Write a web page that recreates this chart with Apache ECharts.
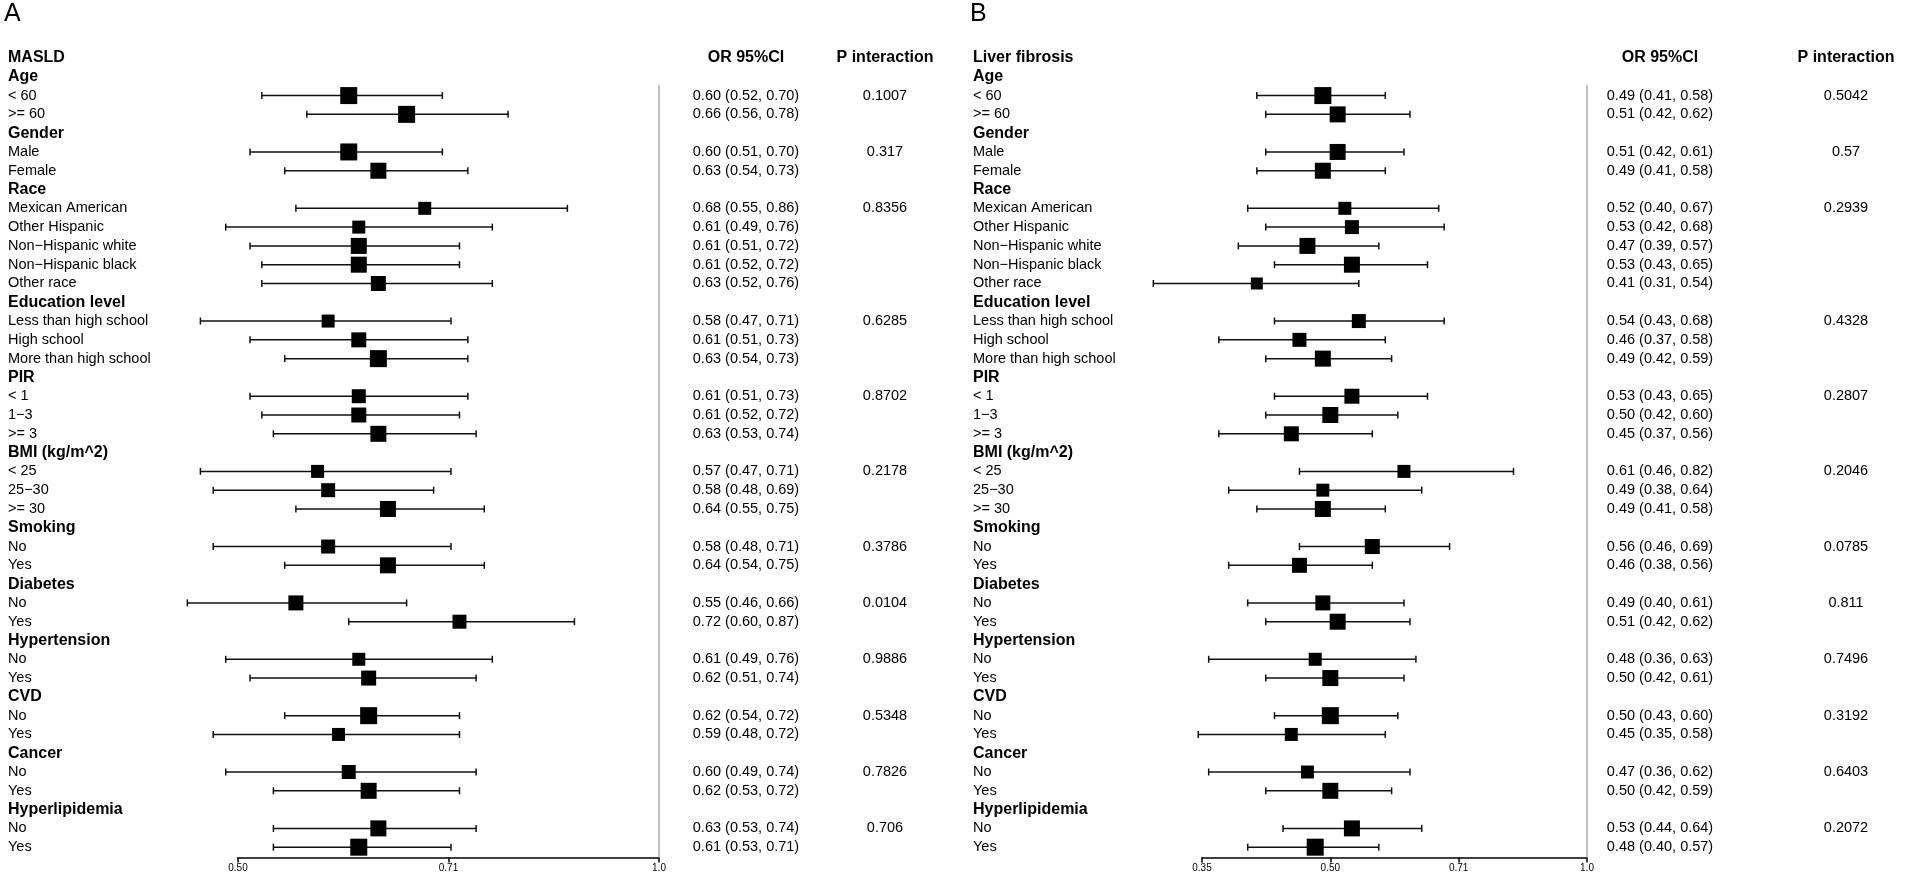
<!DOCTYPE html>
<html>
<head>
<meta charset="utf-8">
<script src="https://cdn.jsdelivr.net/npm/echarts@6/dist/echarts.min.js"></script>
<style>
html,body{margin:0;padding:0;background:#fff;}
#chart{width:1908px;height:876px;}
</style>
</head>
<body>
<div id="chart"></div>
<script>
// ---------- DATA ----------
const rowLabels = ['__TITLE__','Age','< 60','>= 60','Gender','Male','Female','Race','Mexican American','Other Hispanic','Non\u2212Hispanic white','Non\u2212Hispanic black','Other race','Education level','Less than high school','High school','More than high school','PIR','< 1','1\u22123','>= 3','BMI (kg/m^2)','< 25','25\u221230','>= 30','Smoking','No','Yes','Diabetes','No','Yes','Hypertension','No','Yes','CVD','No','Yes','Cancer','No','Yes','Hyperlipidemia','No','Yes'];
const headerRows = [0,1,4,7,13,17,21,25,28,31,34,37,40];

const titleA = 'MASLD';
const orA = [0.60,0.66,0.60,0.63,0.68,0.61,0.61,0.61,0.63,0.58,0.61,0.63,0.61,0.61,0.63,0.57,0.58,0.64,0.58,0.64,0.55,0.72,0.61,0.62,0.62,0.59,0.60,0.62,0.63,0.61];
const loA = [0.52,0.56,0.51,0.54,0.55,0.49,0.51,0.52,0.52,0.47,0.51,0.54,0.51,0.52,0.53,0.47,0.48,0.55,0.48,0.54,0.46,0.60,0.49,0.51,0.54,0.48,0.49,0.53,0.53,0.53];
const hiA = [0.70,0.78,0.70,0.73,0.86,0.76,0.72,0.72,0.76,0.71,0.73,0.73,0.73,0.72,0.74,0.71,0.69,0.75,0.71,0.75,0.66,0.87,0.76,0.74,0.72,0.72,0.74,0.72,0.74,0.71];
const pA  = ['0.1007','','0.317','','0.8356','','','','','0.6285','','','0.8702','','','0.2178','','','0.3786','','0.0104','','0.9886','','0.5348','','0.7826','','0.706',''];
const wA  = [17,17,17,16,13,13,16,16,15,13,15,17,14,15,16,13,14,16,14,16,15,14,13,15,17,13,14,16,16,17];

const titleB = 'Liver fibrosis';
const orB = [0.49,0.51,0.51,0.49,0.52,0.53,0.47,0.53,0.41,0.54,0.46,0.49,0.53,0.50,0.45,0.61,0.49,0.49,0.56,0.46,0.49,0.51,0.48,0.50,0.50,0.45,0.47,0.50,0.53,0.48];
const loB = [0.41,0.42,0.42,0.41,0.40,0.42,0.39,0.43,0.31,0.43,0.37,0.42,0.43,0.42,0.37,0.46,0.38,0.41,0.46,0.38,0.40,0.42,0.36,0.42,0.43,0.35,0.36,0.42,0.44,0.40];
const hiB = [0.58,0.62,0.61,0.58,0.67,0.68,0.57,0.65,0.54,0.68,0.58,0.59,0.65,0.60,0.56,0.82,0.64,0.58,0.69,0.56,0.61,0.62,0.63,0.61,0.60,0.58,0.62,0.59,0.64,0.57];
const pB  = ['0.5042','','0.57','','0.2939','','','','','0.4328','','','0.2807','','','0.2046','','','0.0785','','0.811','','0.7496','','0.3192','','0.6403','','0.2072',''];
const wB  = [17,16,16,16,13,14,16,16,12,14,14,16,15,16,15,13,13,16,15,15,15,16,13,16,17,13,13,16,16,17];

const colHeaders = ['OR 95%CI','P interaction'];
// ticks are powers of sqrt(2): 0.35, 0.50, 0.71, 1.0

// ---------- LAYOUT ----------
const FONT = '"Liberation Sans", Arial, Helvetica, sans-serif';
const ROW_TOP = 58, PITCH = 18.79, YMAX = 42.55;
const panels = [
  {title:titleA, or:orA, lo:loA, hi:hiA, p:pA, w:wA, gridLeft:238, gridWidth:421, xmin:0.5, labelX:8, orX:746, pX:885, letter:'A', letterX:4},
  {title:titleB, or:orB, lo:loB, hi:hiB, p:pB, w:wB, gridLeft:1202, gridWidth:385, xmin:Math.pow(Math.SQRT2,-3), labelX:973, orX:1660, pX:1846, letter:'B', letterX:970}
];
const dataRows = rowLabels.map((_,i)=>i).filter(i=>headerRows.indexOf(i)<0);

const grids=[], xAxes=[], yAxes=[], series=[], graphics=[];
panels.forEach((P,k)=>{
  grids.push({left:P.gridLeft, width:P.gridWidth, top:ROW_TOP, height:YMAX*PITCH});
  xAxes.push({type:'log', logBase:Math.SQRT2, min:P.xmin, max:1, gridIndex:k, position:'bottom',
    axisLine:{show:true, onZero:false, lineStyle:{color:'#000', width:1.5}},
    axisTick:{show:true, length:5, inside:false, lineStyle:{color:'#000', width:1.5}},
    minorTick:{show:false}, splitLine:{show:false},
    axisLabel:{color:'#000', fontSize:10, fontFamily:FONT, margin:6,
      formatter:v=> v>0.999 ? '1.0' : v.toFixed(2)}
  });
  yAxes.push({type:'value', min:0, max:YMAX, inverse:true, show:false, gridIndex:k});

  // reference line at 1
  series.push({type:'custom', xAxisIndex:k, yAxisIndex:k, silent:true, clip:false,
    data:[[1,1.45,YMAX]],
    renderItem:(params,api)=>{
      const a=api.coord([api.value(0),api.value(1)]), b=api.coord([api.value(0),api.value(2)]);
      return {type:'line', shape:{x1:a[0],y1:a[1],x2:b[0],y2:b[1]}, style:{stroke:'#a0a0a0', lineWidth:1.3}};
    }});

  // forest marks
  const fd = dataRows.map((r,i)=>[P.or[i],P.lo[i],P.hi[i],r,P.w[i]]);
  series.push({type:'custom', xAxisIndex:k, yAxisIndex:k, silent:true, clip:false,
    data:fd,
    renderItem:(params,api)=>{
      const row=api.value(3), s=api.value(4);
      const c=api.coord([api.value(0),row]), l=api.coord([api.value(1),row]), h=api.coord([api.value(2),row]);
      const st={stroke:'#111', lineWidth:1.5};
      return {type:'group', children:[
        {type:'line', shape:{x1:l[0],y1:c[1],x2:h[0],y2:c[1]}, style:st},
        {type:'line', shape:{x1:l[0],y1:c[1]-3.5,x2:l[0],y2:c[1]+3.5}, style:st},
        {type:'line', shape:{x1:h[0],y1:c[1]-3.5,x2:h[0],y2:c[1]+3.5}, style:st},
        {type:'rect', shape:{x:c[0]-s/2,y:c[1]-s/2,width:s,height:s}, style:{fill:'#000'}}
      ]};
    }});

  // text columns
  const textItems=[];
  rowLabels.forEach((lab,r)=>{
    const bold = headerRows.indexOf(r)>=0;
    textItems.push([1,r,0,bold?1:0]);
  });
  series.push({type:'custom', xAxisIndex:k, yAxisIndex:k, silent:true, clip:false,
    data:textItems,
    renderItem:(params,api)=>{
      const r=api.value(1), bold=api.value(3);
      const y=api.coord([1,r])[1];
      const children=[];
      let lab = rowLabels[r]==='__TITLE__' ? P.title : rowLabels[r];
      children.push({type:'text', x:P.labelX, y:y, style:{text:lab, fill:'#000',
        font:(bold?'bold 16px ':'14.5px ')+FONT, align:'left', verticalAlign:'middle'}});
      if(r===0){
        children.push({type:'text', x:P.orX, y:y, style:{text:colHeaders[0], fill:'#000', font:'bold 16px '+FONT, align:'center', verticalAlign:'middle'}});
        children.push({type:'text', x:P.pX, y:y, style:{text:colHeaders[1], fill:'#000', font:'bold 16px '+FONT, align:'center', verticalAlign:'middle'}});
      }
      const di = dataRows.indexOf(r);
      if(di>=0){
        const t = P.or[di].toFixed(2)+' ('+P.lo[di].toFixed(2)+', '+P.hi[di].toFixed(2)+')';
        children.push({type:'text', x:P.orX, y:y, style:{text:t, fill:'#000', font:'14.5px '+FONT, align:'center', verticalAlign:'middle'}});
        if(P.p[di]) children.push({type:'text', x:P.pX, y:y, style:{text:P.p[di], fill:'#000', font:'14.5px '+FONT, align:'center', verticalAlign:'middle'}});
      }
      return {type:'group', children};
    }});

  graphics.push({type:'text', left:P.letterX, top:2, style:{text:P.letter, fill:'#000', font:'25px '+FONT}});
});

const chart = echarts.init(document.getElementById('chart'), null, {renderer:'canvas'});
chart.setOption({
  animation:false,
  backgroundColor:'#fff',
  grid:grids, xAxis:xAxes, yAxis:yAxes, series:series, graphic:graphics
});
</script>
</body>
</html>
